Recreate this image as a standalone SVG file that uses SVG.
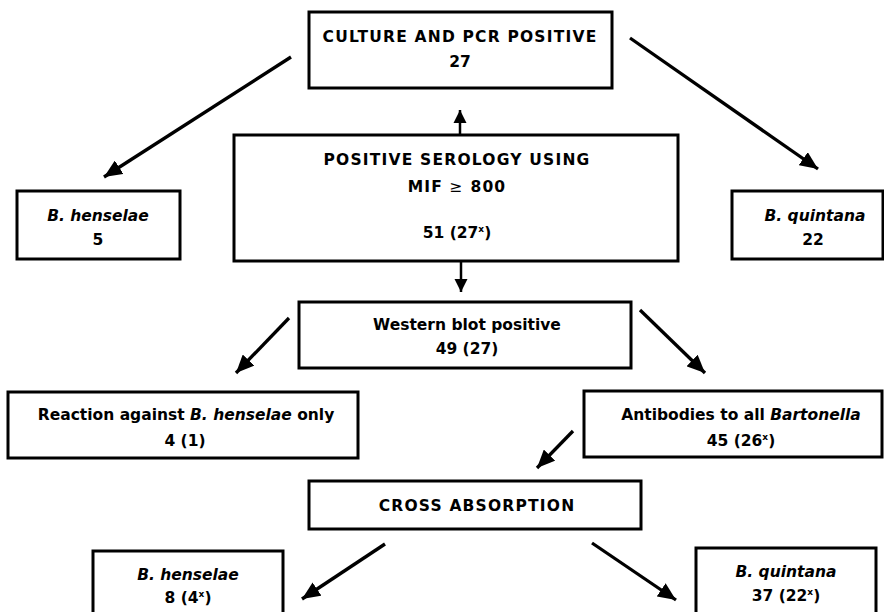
<svg xmlns="http://www.w3.org/2000/svg" width="884" height="612" viewBox="0 0 884 612">
<defs>
<marker id="ah" markerUnits="userSpaceOnUse" markerWidth="20" markerHeight="16" refX="18" refY="8" orient="auto">
<path d="M0,0 L18,8 L0,16 Z" fill="#000"/>
</marker>
<marker id="ahs" markerUnits="userSpaceOnUse" markerWidth="14" markerHeight="14" refX="13" refY="7" orient="auto">
<path d="M0,0.5 L13,7 L0,13.5 Z" fill="#000"/>
</marker>
<style>
rect{fill:#fff;stroke:#000;stroke-width:3}
text{font-family:"DejaVu Sans","Liberation Sans",sans-serif;font-weight:bold;font-size:15.5px;text-anchor:middle;fill:#000}
.caps{letter-spacing:1.2px}
.i{font-style:italic}
.sup{font-size:9px}
.conn line{stroke:#000;stroke-width:3.3;fill:none;marker-end:url(#ah)}
.conn line.v{stroke-width:2.5;marker-end:url(#ahs)}
</style>
</defs>
<rect x="0" y="0" width="884" height="612" style="stroke:none;fill:#fff"/>
<g id="culture">
<rect x="309" y="12" width="303" height="76"/>
<text x="460" y="42" class="caps">CULTURE AND PCR POSITIVE</text>
<text x="460" y="67">27</text>
</g>
<g id="serology">
<rect x="234" y="135" width="444" height="126"/>
<text x="457" y="165" class="caps">POSITIVE SEROLOGY USING</text>
<text x="457" y="192" class="caps">MIF <tspan style="font-weight:normal">≥</tspan> 800</text>
<text x="457" y="238">51 (27<tspan class="sup" dy="-6">x</tspan><tspan dy="6">)</tspan></text>
</g>
<g id="henselae-top">
<rect x="17" y="191" width="163" height="68"/>
<text x="98" y="221" class="i">B. henselae</text>
<text x="98" y="245">5</text>
</g>
<g id="quintana-top">
<rect x="732" y="191" width="151" height="68"/>
<text x="815" y="221" class="i">B. quintana</text>
<text x="813" y="245">22</text>
</g>
<g id="western">
<rect x="299" y="302" width="332" height="66"/>
<text x="467" y="330">Western blot positive</text>
<text x="467" y="354">49 (27)</text>
</g>
<g id="reaction">
<rect x="8" y="392" width="350" height="66"/>
<text x="186" y="420">Reaction against <tspan class="i">B. henselae</tspan> only</text>
<text x="185" y="446">4 (1)</text>
</g>
<g id="antibodies">
<rect x="584" y="391" width="298" height="66"/>
<text x="741" y="420">Antibodies to all <tspan class="i">Bartonella</tspan></text>
<text x="741" y="446">45 (26<tspan class="sup" dy="-6">x</tspan><tspan dy="6">)</tspan></text>
</g>
<g id="cross">
<rect x="309" y="481" width="332" height="48"/>
<text x="477" y="511" class="caps">CROSS ABSORPTION</text>
</g>
<g id="henselae-bottom">
<rect x="93" y="551" width="190" height="70"/>
<text x="188" y="580" class="i">B. henselae</text>
<text x="188" y="603">8 (4<tspan class="sup" dy="-6">x</tspan><tspan dy="6">)</tspan></text>
</g>
<g id="quintana-bottom">
<rect x="696" y="548" width="180" height="70"/>
<text x="786" y="577" class="i">B. quintana</text>
<text x="786" y="601">37 (22<tspan class="sup" dy="-6">x</tspan><tspan dy="6">)</tspan></text>
</g>
<g id="connectors" class="conn">
<line x1="291" y1="57" x2="104" y2="177"/>
<line x1="630" y1="38" x2="818" y2="169"/>
<line class="v" x1="460" y1="134" x2="460" y2="110"/>
<line class="v" x1="461" y1="262" x2="461" y2="292"/>
<line x1="289" y1="318" x2="236" y2="373"/>
<line x1="640" y1="310" x2="705" y2="373"/>
<line x1="573" y1="431" x2="537" y2="468"/>
<line x1="385" y1="544" x2="302" y2="599"/>
<line x1="592" y1="543" x2="676" y2="600"/>
</g>
</svg>
